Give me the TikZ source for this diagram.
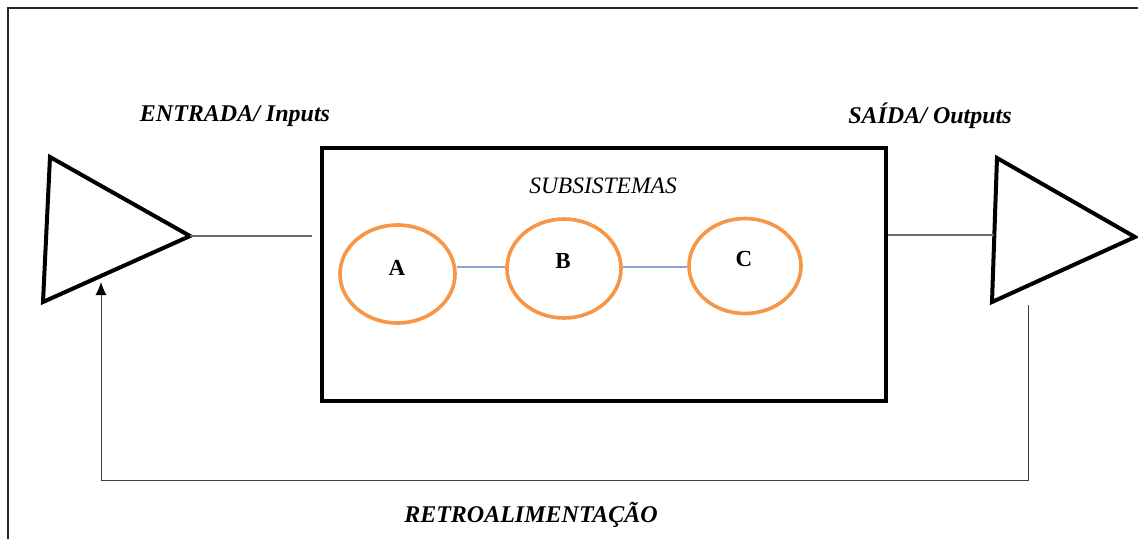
\documentclass[tikz,border=0pt]{standalone}
\usepackage{fontspec}
\setmainfont{Liberation Serif}
\usetikzlibrary{arrows.meta,shapes.geometric}
\definecolor{ringorange}{RGB}{247,150,70}
\definecolor{linkblue}{RGB}{135,165,210}
\definecolor{wiregray}{RGB}{105,105,105}
\tikzset{
  frame/.style={draw=black!85, line width=1.2pt},
  block/.style={draw=black, line width=4pt, rectangle, minimum width=564pt, minimum height=253pt, inner sep=0pt},
  ring/.style={draw=ringorange, line width=3.6pt, ellipse, inner sep=0pt},
  amp/.style={draw=black, line width=4pt, line join=miter},
  wire/.style={draw=wiregray, line width=1.3pt},
  link/.style={draw=linkblue, line width=1.2pt},
  feedback/.style={draw=black!75, line width=1pt, -{Latex[length=13pt,width=11pt,black]}},
  caption/.style={font=\fontsize{24}{27}\selectfont\bfseries\itshape},
  letter/.style={font=\fontsize{23}{26}\selectfont\bfseries},
}
\begin{document}
\begin{tikzpicture}[x=1pt,y=-1pt]
  % canvas
  \fill[white] (0,0) rectangle (1138,539);
  \useasboundingbox (0,0) rectangle (1138,539);

  % outer frame (top and left edges)
  \draw[frame] (8,539) -- (8,8) -- (1138,8);

  % input amplifier
  \coordinate (inTop) at (50,157);
  \coordinate (inBot) at (43,302);
  \coordinate (inTip) at (190,236);
  \draw[amp] (inTop) -- (inTip) -- (inBot) -- cycle;

  % output amplifier
  \coordinate (outTop) at (997,158);
  \coordinate (outBot) at (992,302);
  \coordinate (outTip) at (1135,237);
  \draw[amp] (outTop) -- (outTip) -- (outBot) -- cycle;

  % subsystem block
  \node[block] (sys) at (604,274.5) {};
  \node[font=\fontsize{23.5}{26}\selectfont\itshape] (subs) at (603,186) {SUBSISTEMAS};

  % subsystems
  \node[ring, minimum width=115pt, minimum height=98pt] (A) at (397.5,274) {};
  \node[ring, minimum width=114pt, minimum height=99pt] (B) at (564,268.5) {};
  \node[ring, minimum width=112pt, minimum height=95pt] (C) at (745,266) {};
  \node[letter] (la) at (397,268) {A};
  \node[letter] (lb) at (563,261) {B};
  \node[letter] (lc) at (744,259) {C};

  \draw[link] (A.east |- 0,267) -- (B.west |- 0,267);
  \draw[link] (B.east |- 0,267) -- (C.west |- 0,267);

  % signal wires
  \coordinate (inEnd) at (312,236);
  \draw[wire] (inTip) -- (inEnd);
  \coordinate (sysOut) at (sys.east |- 0,235);
  \coordinate (outIn) at (994,235);
  \draw[wire] (sysOut) -- (outIn);

  % feedback loop
  \coordinate (fbStart) at (1028,305);
  \coordinate (fbRight) at (1028,480);
  \coordinate (fbLeft) at (101,480);
  \coordinate (fbEnd) at (101,282);
  \draw[feedback] (fbStart) -- (fbRight) -- (fbLeft) -- (fbEnd);

  % labels
  \node[caption] (entrada) at (235,116) {ENTRADA/ Inputs};
  \node[caption] (saida) at (930,116) {SAÍDA/ Outputs};
  \node[caption] (retro) at (531,515) {RETROALIMENTAÇÃO};
\end{tikzpicture}
\end{document}
